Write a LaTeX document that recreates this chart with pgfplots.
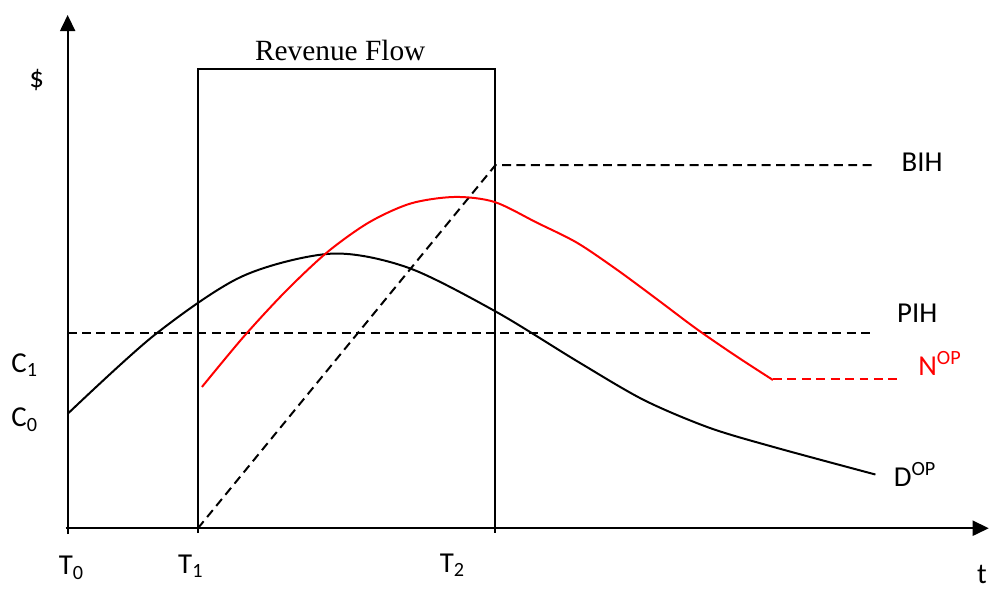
\documentclass[border=0pt]{standalone}
\usepackage{fontspec}
\setmainfont{Carlito}
\newfontfamily\serif{Liberation Serif}
\usepackage{pgfplots}
\pgfplotsset{compat=1.18}
\usetikzlibrary{arrows.meta}
\begin{document}
\begin{tikzpicture}[every node/.style={font=\fontsize{11.6}{14}\selectfont}]
\begin{axis}[
    scale only axis,
    width=398pt, height=234.8pt,
    xmin=0, xmax=995, ymin=0, ymax=587,
    hide axis, clip=false,
    every axis plot/.append style={line width=0.8pt},
    dsh/.style={dash pattern=on 3.6pt off 2.2pt},
]
% bounding box
\addplot[draw=none] coordinates {(0,0) (995,587)};
% axes
\addplot[line width=0.9pt, -{Triangle[length=6.5pt,width=6pt]}] coordinates {(68,50) (68,572)};
\addplot[line width=0.9pt, -{Triangle[length=6.5pt,width=6pt]}] coordinates {(66,56) (994,56)};
% revenue flow box
\addplot[line width=0.8pt] coordinates {(199,51) (199,518) (498,518) (498,51)};
% PIH
\addplot[dsh] coordinates {(68,252) (878,252)};
% BIH
\addplot[dsh] coordinates {(199,56) (498,421) (878,421)};
% D^OP
\addplot[smooth] coordinates {
    (68,171) (155,250) (243,309) (333,332) (410,318) (498,274)
    (580,224) (647,185) (713,157) (780,137) (880,110)};
% N^OP
\addplot[red, smooth] coordinates {
    (203,198) (245,248.6) (287,294) (329,333.5) (371,363.5) (413,382.5)
    (457,389) (497,384) (540,363) (580,343) (620,316) (660,286.5)
    (700,256.5) (740,229) (777,205)};
\addplot[red, dsh] coordinates {(777,206) (903,206)};
% labels
\node at (axis cs:342,536) {\serif\fontsize{11.8}{14}\selectfont Revenue Flow};
\node at (axis cs:37,507) {\$};
\node at (axis cs:25,220) {C\textsubscript{1}};
\node at (axis cs:25,165) {C\textsubscript{0}};
\node at (axis cs:72,16) {T\textsubscript{0}};
\node at (axis cs:192,18) {T\textsubscript{1}};
\node at (axis cs:455,19) {T\textsubscript{2}};
\node at (axis cs:987,10) {t};
\node at (axis cs:927,424) {BIH};
\node at (axis cs:922,272) {PIH};
\node[red] at (axis cs:945,222) {N\textsuperscript{OP}};
\node at (axis cs:920,110) {D\textsuperscript{OP}};
\end{axis}
\end{tikzpicture}
\end{document}
